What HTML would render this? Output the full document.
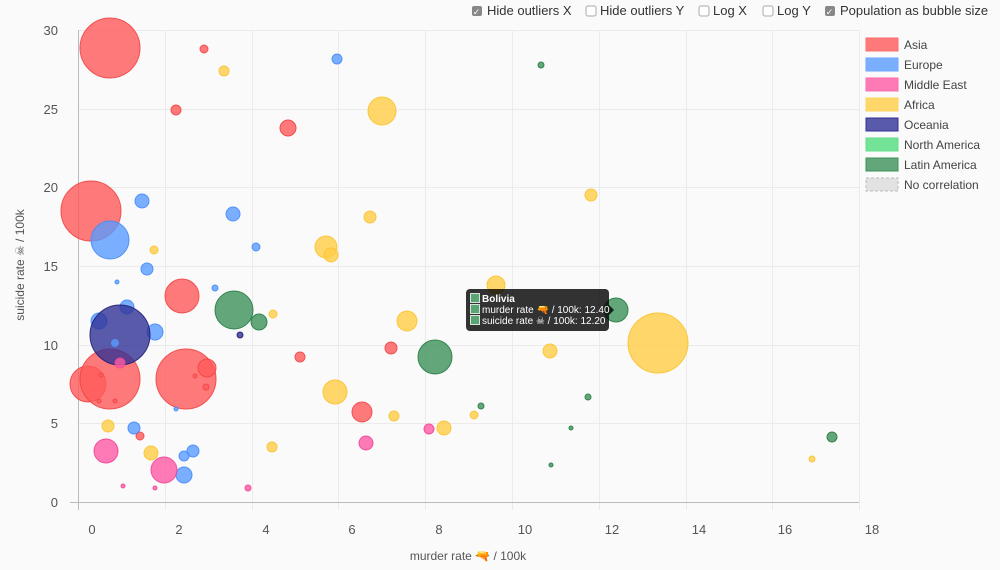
<!DOCTYPE html>
<html><head><meta charset="utf-8"><style>
html,body{margin:0;padding:0;background:#fafafa;width:1000px;height:570px;overflow:hidden}
svg{display:block;font-family:"Liberation Sans","DejaVu Sans",sans-serif}
</style></head><body>
<svg width="1000" height="570" viewBox="0 0 1000 570">
<rect width="1000" height="570" fill="#fafafa"/>
<g font-size="13" fill="#333">
<rect x="472" y="6" width="10" height="10" rx="2" fill="#888"/><text x="476.5" y="15" font-size="9" fill="#fff" text-anchor="middle">✓</text>
<text x="487" y="15">Hide outliers X</text>
<rect x="586" y="6" width="10" height="10" rx="2" fill="#fff" stroke="#aaa"/>
<text x="600" y="15">Hide outliers Y</text>
<rect x="699" y="6" width="10" height="10" rx="2" fill="#fff" stroke="#aaa"/>
<text x="713" y="15">Log X</text>
<rect x="763" y="6" width="10" height="10" rx="2" fill="#fff" stroke="#aaa"/>
<text x="777" y="15">Log Y</text>
<rect x="825" y="6" width="10" height="10" rx="2" fill="#888"/><text x="829.5" y="15" font-size="9" fill="#fff" text-anchor="middle">✓</text>
<text x="840" y="15">Population as bubble size</text>
</g>
<g stroke="#ebebeb" stroke-width="1">
<line x1="78" y1="30.5" x2="859" y2="30.5"/><line x1="78" y1="109.5" x2="859" y2="109.5"/><line x1="78" y1="187.5" x2="859" y2="187.5"/><line x1="78" y1="266.5" x2="859" y2="266.5"/><line x1="78" y1="345.5" x2="859" y2="345.5"/><line x1="78" y1="423.5" x2="859" y2="423.5"/>
<line x1="165.5" y1="30" x2="165.5" y2="510"/><line x1="252.5" y1="30" x2="252.5" y2="510"/><line x1="338.5" y1="30" x2="338.5" y2="510"/><line x1="425.5" y1="30" x2="425.5" y2="510"/><line x1="512.5" y1="30" x2="512.5" y2="510"/><line x1="599.5" y1="30" x2="599.5" y2="510"/><line x1="686.5" y1="30" x2="686.5" y2="510"/><line x1="772.5" y1="30" x2="772.5" y2="510"/><line x1="859.5" y1="30" x2="859.5" y2="510"/>
</g>
<g stroke="#bbb"><line x1="78.5" y1="30" x2="78.5" y2="510"/><line x1="70" y1="502.5" x2="859" y2="502.5"/></g>
<g font-size="13" fill="#555" text-anchor="end">
<text x="58" y="35">30</text><text x="58" y="114">25</text><text x="58" y="192">20</text><text x="58" y="271">15</text><text x="58" y="350">10</text><text x="58" y="428">5</text><text x="58" y="507">0</text>
</g>
<g font-size="13" fill="#555" text-anchor="middle">
<text x="92" y="534">0</text><text x="179" y="534">2</text><text x="266" y="534">4</text><text x="352" y="534">6</text><text x="439" y="534">8</text><text x="525" y="534">10</text><text x="612" y="534">12</text><text x="699" y="534">14</text><text x="785" y="534">16</text><text x="872" y="534">18</text>
</g>
<text x="468" y="560" font-size="12" fill="#555" text-anchor="middle">murder rate 🔫 / 100k</text>
<text transform="translate(24,265) rotate(-90)" font-size="12" fill="#555" text-anchor="middle">suicide rate ☠ / 100k</text>
<g fill="rgba(255,90,90,0.8)" stroke="rgba(240,70,70,0.9)">
<circle cx="110" cy="48" r="30"/><circle cx="204" cy="49" r="4"/><circle cx="176" cy="110" r="5"/><circle cx="288" cy="128" r="8"/>
<circle cx="91" cy="211" r="30"/><circle cx="182" cy="296" r="17"/><circle cx="88" cy="384" r="18"/><circle cx="110" cy="379" r="30"/>
<circle cx="186" cy="379" r="30"/><circle cx="207" cy="368" r="9"/><circle cx="300" cy="357" r="5"/><circle cx="391" cy="348" r="6"/>
<circle cx="362" cy="412" r="10"/><circle cx="140" cy="436" r="4"/>
<circle cx="99" cy="401" r="2"/><circle cx="101" cy="375" r="2"/><circle cx="115" cy="401" r="2"/><circle cx="195" cy="376" r="2"/><circle cx="206" cy="387" r="3"/>
</g>
<g fill="rgba(90,155,255,0.8)" stroke="rgba(70,140,250,0.9)">
<circle cx="337" cy="59" r="5"/><circle cx="142" cy="201" r="7"/><circle cx="110" cy="240" r="19"/><circle cx="233" cy="214" r="7"/>
<circle cx="256" cy="247" r="4"/><circle cx="147" cy="269" r="6"/><circle cx="117" cy="282" r="2"/><circle cx="99" cy="321" r="8"/>
<circle cx="127" cy="307" r="7"/><circle cx="155" cy="332" r="8"/><circle cx="215" cy="288" r="3"/>
<circle cx="134" cy="428" r="6"/><circle cx="193" cy="451" r="6"/><circle cx="184" cy="456" r="5"/><circle cx="184" cy="475" r="8"/><circle cx="176" cy="409" r="2"/>
</g>
<g fill="rgba(50,50,150,0.8)" stroke="rgba(30,30,120,0.9)">
<circle cx="120" cy="335" r="30"/><circle cx="240" cy="335" r="3"/>
</g>
<circle cx="115" cy="343" r="4" fill="rgba(90,155,255,0.8)"/>
<g fill="rgba(255,90,165,0.8)" stroke="rgba(240,70,150,0.9)">
<circle cx="106" cy="451" r="12"/><circle cx="164" cy="470" r="13"/><circle cx="366" cy="443" r="7"/><circle cx="429" cy="429" r="5"/>
<circle cx="123" cy="486" r="2"/><circle cx="155" cy="488" r="2"/><circle cx="248" cy="488" r="3"/><circle cx="120" cy="363" r="5"/>
</g>
<g fill="rgba(255,205,70,0.8)" stroke="rgba(250,195,50,0.9)">
<circle cx="224" cy="71" r="5"/><circle cx="382" cy="111" r="14"/><circle cx="591" cy="195" r="6"/><circle cx="370" cy="217" r="6"/>
<circle cx="154" cy="250" r="4"/><circle cx="326" cy="247" r="11"/><circle cx="331" cy="255" r="7"/><circle cx="273" cy="314" r="4"/>
<circle cx="407" cy="321" r="10"/><circle cx="496" cy="285" r="9"/><circle cx="335" cy="392" r="12"/><circle cx="108" cy="426" r="6"/>
<circle cx="151" cy="453" r="7"/><circle cx="272" cy="447" r="5"/><circle cx="394" cy="416" r="5"/><circle cx="444" cy="428" r="7"/>
<circle cx="474" cy="415" r="4"/><circle cx="550" cy="351" r="7"/><circle cx="658" cy="343" r="30"/><circle cx="812" cy="459" r="3"/>
</g>
<g fill="rgba(60,145,90,0.8)" stroke="rgba(40,125,70,0.9)">
<circle cx="541" cy="65" r="3"/><circle cx="234" cy="310" r="19"/><circle cx="259" cy="322" r="8"/><circle cx="435" cy="357" r="17"/>
<circle cx="616" cy="310" r="12"/><circle cx="481" cy="406" r="3"/><circle cx="588" cy="397" r="3"/><circle cx="571" cy="428" r="2"/>
<circle cx="551" cy="465" r="2"/><circle cx="832" cy="437" r="5"/>
</g>
<g>
<rect x="466" y="289" width="143" height="42" rx="4" fill="rgba(0,0,0,0.8)"/>
<polygon points="609,305 614,310 609,315" fill="rgba(0,0,0,0.8)"/>
<g fill="#5aa574" stroke="#fff" stroke-width="0.8">
<rect x="470.5" y="293.5" width="9" height="9"/><rect x="470.5" y="304.5" width="9" height="9"/><rect x="470.5" y="315.5" width="9" height="9"/>
</g>
<g font-size="10" fill="#fff">
<text x="482" y="302" font-weight="bold">Bolivia</text>
<text x="482" y="313">murder rate 🔫 / 100k: 12.40</text>
<text x="482" y="324">suicide rate ☠ / 100k: 12.20</text>
</g>
</g>
<g font-size="12" fill="#444">
<rect x="866" y="38" width="32" height="13" fill="rgba(255,90,90,0.8)" stroke="#ff6e6e"/><text x="904" y="49">Asia</text>
<rect x="866" y="58" width="32" height="13" fill="rgba(90,155,255,0.8)" stroke="#6fa8ff"/><text x="904" y="69">Europe</text>
<rect x="866" y="78" width="32" height="13" fill="rgba(255,90,165,0.8)" stroke="#ff6eb0"/><text x="904" y="89">Middle East</text>
<rect x="866" y="98" width="32" height="13" fill="rgba(255,205,70,0.8)" stroke="#ffd35c"/><text x="904" y="109">Africa</text>
<rect x="866" y="118" width="32" height="13" fill="rgba(50,50,150,0.8)" stroke="#333399"/><text x="904" y="129">Oceania</text>
<rect x="866" y="138" width="32" height="13" fill="rgba(100,225,140,0.9)" stroke="#66dd88"/><text x="904" y="149">North America</text>
<rect x="866" y="158" width="32" height="13" fill="rgba(60,145,90,0.8)" stroke="#3c915a"/><text x="904" y="169">Latin America</text>
<rect x="866" y="178" width="32" height="13" fill="#e2e2e2" stroke="#bbb" stroke-dasharray="3,2"/><text x="904" y="189">No correlation</text>
</g>
</svg>
</body></html>
